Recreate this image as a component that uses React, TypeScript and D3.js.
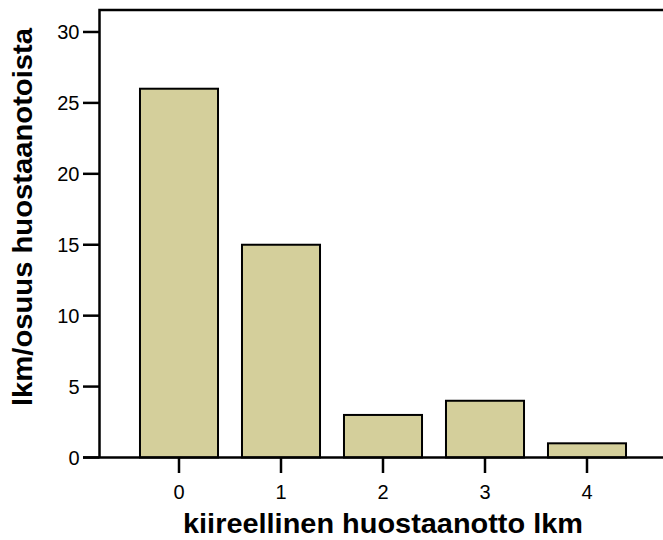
import { useEffect, useRef } from "react";
import * as d3 from "d3";

const categories = ["0", "1", "2", "3", "4"];
const counts = [26, 15, 3, 4, 1];
const yTicks = [0, 5, 10, 15, 20, 25, 30];

const xTitle = "kiireellinen huostaanotto lkm";
const yTitle = "lkm/osuus huostaanotoista";

export default function App() {
  const svgRef = useRef<SVGSVGElement>(null);

  useEffect(() => {
    if (!svgRef.current) return;
    const svg = d3.select(svgRef.current);
    svg.selectAll("*").remove();

    const width = 663;
    const left = 99.5;
    const top = 10;
    const bottom = 457.5;
    const font = "'Liberation Sans', Arial, Helvetica, sans-serif";

    // y: 0 at bottom, frame top sits a bit above 30
    const y = d3.scaleLinear().domain([0, 31.55]).range([bottom, top]);

    const x = d3
      .scaleBand<string>()
      .domain(categories)
      .range([128, 638])
      .paddingInner(0.235)
      .paddingOuter(0.1175);

    // bars
    svg
      .append("g")
      .selectAll("rect")
      .data(counts)
      .join("rect")
      .attr("x", (_, i) => x(categories[i])!)
      .attr("y", (d) => y(d))
      .attr("width", x.bandwidth())
      .attr("height", (d) => bottom - y(d))
      .attr("fill", "#d4cf9b")
      .attr("stroke", "#000")
      .attr("stroke-width", 2);

    // frame: left and top lines
    svg
      .append("path")
      .attr("d", `M${left},${bottom} V${top} H${width}`)
      .attr("fill", "none")
      .attr("stroke", "#000")
      .attr("stroke-width", 2.5);

    // y axis ticks + labels
    const yg = svg.append("g");
    yTicks.forEach((t) => {
      yg.append("line")
        .attr("x1", 83)
        .attr("x2", left)
        .attr("y1", y(t))
        .attr("y2", y(t))
        .attr("stroke", "#000")
        .attr("stroke-width", 2.5);
      yg.append("text")
        .attr("x", 79.5)
        .attr("y", y(t))
        .attr("dy", "0.36em")
        .attr("text-anchor", "end")
        .attr("font-family", font)
        .attr("font-size", 20)
        .text(t);
    });

    // bottom axis line
    svg
      .append("line")
      .attr("x1", 83)
      .attr("x2", width)
      .attr("y1", bottom)
      .attr("y2", bottom)
      .attr("stroke", "#000")
      .attr("stroke-width", 2.5);

    // x ticks + labels
    const xg = svg.append("g");
    categories.forEach((c) => {
      const cx = x(c)! + x.bandwidth() / 2;
      xg.append("line")
        .attr("x1", cx)
        .attr("x2", cx)
        .attr("y1", bottom)
        .attr("y2", 473)
        .attr("stroke", "#000")
        .attr("stroke-width", 2.5);
      xg.append("text")
        .attr("x", cx)
        .attr("y", 499)
        .attr("text-anchor", "middle")
        .attr("font-family", font)
        .attr("font-size", 20)
        .text(c);
    });

    // axis titles
    svg
      .append("text")
      .attr("x", 183)
      .attr("y", 533)
      .attr("font-family", font)
      .attr("font-size", 27)
      .attr("font-weight", "bold")
      .attr("textLength", 400)
      .attr("lengthAdjust", "spacingAndGlyphs")
      .text(xTitle);

    svg
      .append("text")
      .attr("transform", "translate(32,406) rotate(-90)")
      .attr("font-family", font)
      .attr("font-size", 28)
      .attr("font-weight", "bold")
      .attr("textLength", 378)
      .attr("lengthAdjust", "spacingAndGlyphs")
      .text(yTitle);
  }, []);

  return (
    <svg
      ref={svgRef}
      width={663}
      height={540}
      style={{ position: "absolute", left: 0, top: 0, background: "#fff" }}
    />
  );
}
